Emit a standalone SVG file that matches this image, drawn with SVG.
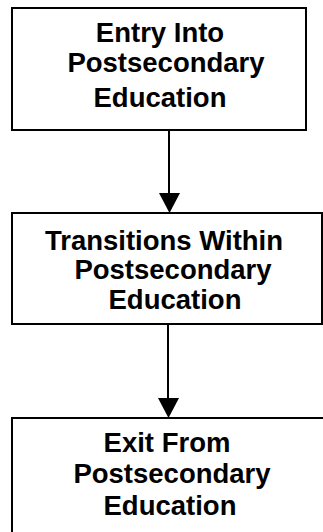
<svg xmlns="http://www.w3.org/2000/svg" width="323" height="532" viewBox="0 0 323 532">
<defs>
<style>
.box{fill:#fff;stroke:#000;stroke-width:2}
.t{font-family:"Liberation Sans",Arial,sans-serif;font-weight:bold;font-size:27.5px;fill:#000;text-anchor:middle}
.c{stroke:#000;stroke-width:2;fill:none}
.ah{fill:#000}
</style>
</defs>
<rect width="323" height="532" fill="#fff"/>
<g id="entry">
<rect class="box" x="12" y="8" width="294" height="122"/>
<text class="t" x="160" y="42">Entry Into</text>
<text class="t" x="166" y="72">Postsecondary</text>
<text class="t" x="160" y="107">Education</text>
</g>
<g id="transitions">
<rect class="box" x="12" y="213" width="310" height="111"/>
<text class="t" x="164" y="250">Transitions Within</text>
<text class="t" x="173" y="279">Postsecondary</text>
<text class="t" x="175" y="309">Education</text>
</g>
<g id="exit">
<rect class="box" x="12" y="418" width="320" height="130"/>
<text class="t" x="167" y="452">Exit From</text>
<text class="t" x="172" y="483">Postsecondary</text>
<text class="t" x="170" y="515">Education</text>
</g>
<g id="connectors">
<line class="c" x1="169" y1="130" x2="169" y2="196"/>
<polygon class="ah" points="159,193 180,193 169.5,213"/>
<line class="c" x1="168" y1="324" x2="168" y2="400"/>
<polygon class="ah" points="158,398 179,398 168.5,418"/>
</g>
</svg>
